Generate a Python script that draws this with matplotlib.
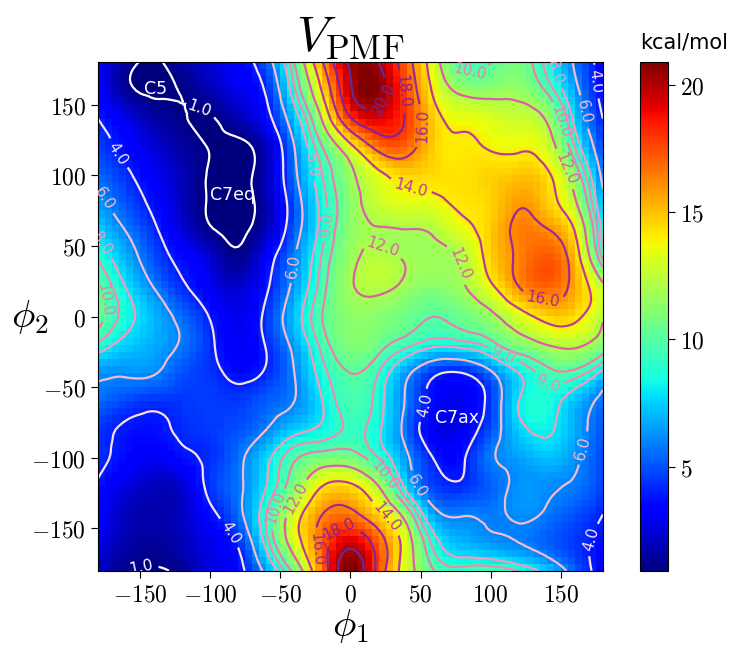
import numpy as np
import matplotlib
matplotlib.use("Agg")
import matplotlib.pyplot as plt
import matplotlib.tri as mtri
from matplotlib.ticker import FuncFormatter

plt.rcParams['mathtext.fontset'] = 'cm'

# grid of the PMF, 20 degree steps
phi1 = [-180, -160, -140, -120, -100, -80, -60, -40, -20, 0, 20, 40, 60, 80, 100, 120, 140, 160, 180]
phi2 = [180, 160, 140, 120, 100, 80, 60, 40, 20, 0, -20, -40, -60, -80, -100, -120, -140, -160, -180]

pmf = [
    [3.2, 1.5, 0.85, 1.6, 2.4, 3.2, 5.2, 10.0, 15.9, 20.3, 20.0, 16.8, 12.8, 9.6, 10.0, 10.8, 8.6, 5.8, 3.2],
    [3.4, 1.35, 0.85, 1.05, 1.8, 2.8, 4.2, 8.8, 14.2, 19.8, 20.6, 17.5, 13.6, 11.6, 11.4, 11.5, 9.8, 6.5, 3.4],
    [4.0, 2.8, 1.6, 1.1, 0.9, 1.8, 3.4, 7.2, 12.2, 17.8, 19.2, 17.8, 14.6, 13.6, 13.2, 12.8, 11.8, 7.6, 4.0],
    [4.7, 3.5, 2.4, 1.5, 0.95, 0.75, 2.0, 6.0, 10.0, 13.5, 16.6, 16.8, 14.6, 14.1, 13.9, 13.8, 13.0, 9.0, 4.7],
    [5.5, 4.3, 3.0, 1.9, 0.9, 0.7, 1.9, 5.6, 9.0, 11.6, 13.6, 14.6, 14.4, 14.3, 14.6, 14.9, 14.3, 11.0, 5.5],
    [6.5, 5.0, 3.6, 2.0, 0.9, 0.7, 1.7, 5.0, 8.5, 11.2, 12.8, 13.4, 13.6, 14.2, 14.6, 15.8, 14.8, 12.3, 6.5],
    [7.7, 6.0, 4.3, 2.6, 1.2, 0.85, 2.0, 5.2, 8.6, 11.3, 11.9, 11.9, 12.2, 13.4, 14.8, 16.4, 16.2, 14.0, 7.5],
    [9.0, 7.0, 5.0, 3.6, 2.4, 1.25, 3.2, 6.0, 9.2, 11.6, 12.4, 11.9, 11.7, 12.2, 14.6, 16.3, 17.3, 15.0, 9.0],
    [10.2, 8.0, 6.0, 4.3, 3.0, 2.3, 3.8, 6.5, 9.6, 11.8, 12.3, 11.6, 11.2, 11.8, 13.6, 15.9, 16.9, 15.4, 12.5],
    [10.5, 8.5, 7.0, 5.5, 3.9, 2.8, 4.4, 7.2, 10.0, 11.3, 11.2, 10.6, 10.0, 10.6, 11.6, 13.2, 14.6, 14.4, 12.2],
    [8.8, 7.5, 6.8, 5.8, 4.3, 3.0, 4.1, 6.5, 9.4, 11.0, 10.5, 9.3, 8.3, 8.5, 9.5, 11.0, 12.0, 12.3, 11.0],
    [6.3, 6.2, 6.1, 5.0, 4.4, 3.6, 4.2, 6.0, 8.6, 10.0, 9.0, 6.4, 4.3, 4.0, 5.7, 8.0, 9.5, 9.6, 7.5],
    [5.6, 4.8, 4.4, 4.5, 4.6, 4.5, 5.2, 6.0, 8.0, 9.6, 8.5, 5.8, 3.4, 3.0, 4.6, 8.0, 8.6, 7.2, 5.5],
    [4.5, 3.8, 3.7, 4.2, 4.5, 5.0, 6.0, 7.5, 8.3, 9.2, 8.2, 5.4, 2.9, 3.1, 5.0, 7.5, 8.2, 6.8, 5.0],
    [4.4, 3.5, 3.0, 3.6, 4.3, 5.6, 7.6, 9.8, 10.8, 10.8, 9.0, 6.3, 3.9, 3.8, 5.8, 6.6, 7.2, 6.3, 4.8],
    [3.8, 2.6, 2.0, 2.4, 4.4, 5.7, 8.0, 11.0, 14.0, 14.3, 12.0, 7.5, 4.6, 4.3, 5.3, 6.3, 6.2, 5.8, 4.6],
    [3.4, 2.0, 1.7, 2.1, 3.6, 5.5, 9.0, 13.0, 16.0, 16.5, 14.5, 11.0, 6.5, 5.9, 5.8, 6.2, 5.8, 5.0, 4.0],
    [2.8, 1.7, 1.4, 1.9, 2.8, 4.2, 8.5, 13.0, 17.0, 19.5, 17.0, 13.0, 8.5, 7.0, 6.4, 6.0, 5.3, 4.5, 3.5],
    [2.2, 1.1, 0.95, 1.3, 2.6, 3.5, 6.5, 10.5, 16.5, 21.0, 17.3, 13.0, 10.0, 9.5, 9.8, 9.0, 7.5, 5.3, 3.2],
]

levels = [1, 4, 6, 8, 9, 10, 12, 14, 16, 18, 20]
level_colors = ['#ffffff', '#fbe0e8', '#f6bccb', '#f29cba', '#ee8db4', '#ea80b0',
                '#dd5ea8', '#bc3a9d', '#a02896', '#832396', '#632a9a']

# where the contour labels sit in the reference
label_spots = [(-107, 157), (-150, -172), (-168, 114), (-86, -153), (53, -63),
               (173, 166), (173, -158), (-171, 86), (-42, 36), (168, 145),
               (48, -120), (169, -94), (-175, 53), (-29, 107), (147, 173),
               (138, -55), (108, -29), (23, -113), (85, 173), (-15, 65),
               (-173, 12), (-55, -135), (151, 138), (21, 45), (80, 38),
               (154, 105), (26, -142), (42, 88), (-35, -131), (48, 135),
               (137, 10), (-27, -165), (34, 159), (-8, -150), (16, 157)]

basins = ['C5', 'C7eq', 'C7ax']
basin_x = [-139, -84, 76]
basin_y = [161, 86, -72]

P1, P2 = np.meshgrid(phi1, phi2)
Z = np.array(pmf)
tri = mtri.Triangulation(P1.ravel(), P2.ravel())
interp = mtri.CubicTriInterpolator(tri, Z.ravel())

# 5 degree cells for the image
centers = np.arange(-177.5, 180, 5.0)
C1, C2 = np.meshgrid(centers, centers[::-1])
img = interp(C1, C2)

fig = plt.figure(figsize=(7.48, 6.48), dpi=100)
ax = fig.add_axes([0.131, 0.119, 0.675, 0.785])
cax = fig.add_axes([0.856, 0.119, 0.037, 0.785])

im = ax.imshow(img, extent=[-180, 180, -180, 180], origin='upper', cmap='jet',
               vmin=0.9, vmax=20.9, interpolation='nearest', aspect='auto')

refiner = mtri.UniformTriRefiner(tri)
tri_r, z_r = refiner.refine_field(Z.ravel(), triinterpolator=interp, subdiv=3)
cs = ax.tricontour(tri_r, z_r, levels=levels, colors=level_colors, linewidths=1.6)
ax.set_xlim(-180, 180)
ax.set_ylim(-180, 180)
ax.clabel(cs, fmt='%.1f', fontsize=11, inline=True, manual=label_spots)

for name, x, y in zip(basins, basin_x, basin_y):
    ax.text(x, y, name, color='white', fontsize=12.5, ha='center', va='center')

ticks = [-150, -100, -50, 0, 50, 100, 150]
ax.set_xticks(ticks)
ax.set_yticks(ticks)
fmt = FuncFormatter(lambda v, p: r'$%d$' % v)
ax.xaxis.set_major_formatter(fmt)
ax.yaxis.set_major_formatter(fmt)
ax.tick_params(labelsize=17, length=5)

ax.set_xlabel(r'$\phi_1$', fontsize=28, labelpad=0)
ax.set_ylabel(r'$\phi_2$', fontsize=28, rotation=0, va='center')
ax.yaxis.set_label_coords(-0.135, 0.5)
ax.set_title(r'$V_{\rm PMF}$', fontsize=36, pad=6)

cb = fig.colorbar(im, cax=cax, ticks=[5, 10, 15, 20])
cb.ax.yaxis.set_major_formatter(fmt)
cb.ax.tick_params(labelsize=17, length=5)
cax.set_title('kcal/mol', fontsize=15, loc='left', pad=10)

fig.savefig('out.png', dpi=100)
